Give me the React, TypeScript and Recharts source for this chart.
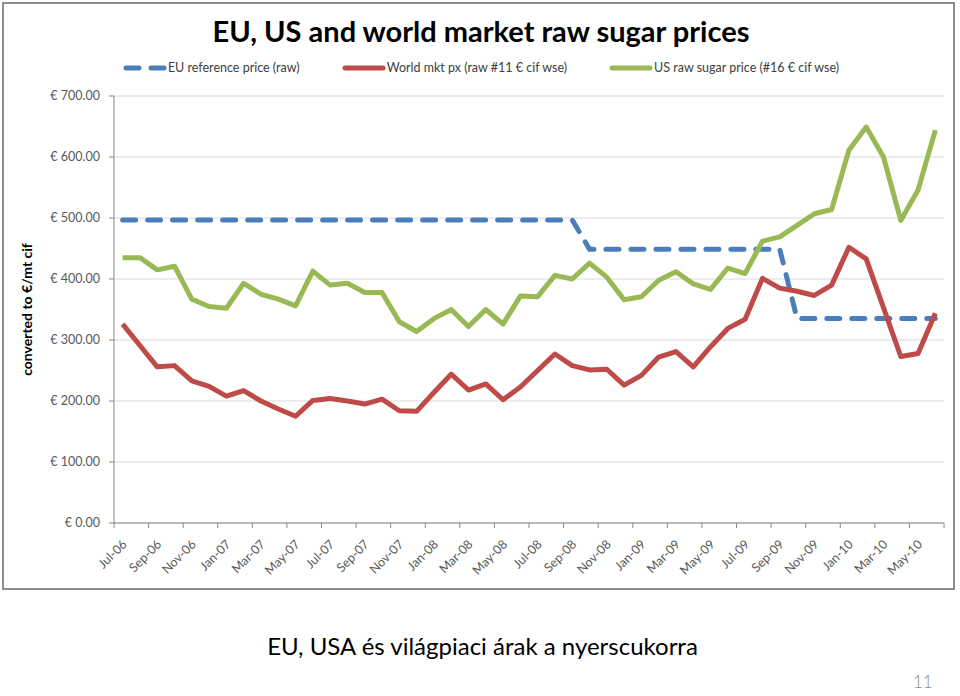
import React from 'react';
import { LineChart, Line, XAxis, YAxis, CartesianGrid, Legend } from 'recharts';

const months = [
  'Jul-06', 'Aug-06', 'Sep-06', 'Oct-06', 'Nov-06', 'Dec-06',
  'Jan-07', 'Feb-07', 'Mar-07', 'Apr-07', 'May-07', 'Jun-07',
  'Jul-07', 'Aug-07', 'Sep-07', 'Oct-07', 'Nov-07', 'Dec-07',
  'Jan-08', 'Feb-08', 'Mar-08', 'Apr-08', 'May-08', 'Jun-08',
  'Jul-08', 'Aug-08', 'Sep-08', 'Oct-08', 'Nov-08', 'Dec-08',
  'Jan-09', 'Feb-09', 'Mar-09', 'Apr-09', 'May-09', 'Jun-09',
  'Jul-09', 'Aug-09', 'Sep-09', 'Oct-09', 'Nov-09', 'Dec-09',
  'Jan-10', 'Feb-10', 'Mar-10', 'Apr-10', 'May-10', 'Jun-10',
];

// EU reference price (raw), €/t
const euReference = [
  496.8, 496.8, 496.8, 496.8, 496.8, 496.8, 496.8, 496.8, 496.8, 496.8, 496.8, 496.8,
  496.8, 496.8, 496.8, 496.8, 496.8, 496.8, 496.8, 496.8, 496.8, 496.8, 496.8, 496.8,
  496.8, 496.8, 496.8, 448.8, 448.8, 448.8, 448.8, 448.8, 448.8, 448.8, 448.8, 448.8,
  448.8, 448.8, 448.8, 335.2, 335.2, 335.2, 335.2, 335.2, 335.2, 335.2, 335.2, 335.2,
];

// world market, raw #11
const worldMarket = [
  326, 291, 256, 258, 233, 224, 208, 217, 200, 187, 175, 201,
  204, 200, 195, 203, 184, 183, 214, 244, 218, 228, 202, 223,
  250, 277, 258, 251, 252, 226, 242, 272, 281, 256, 289, 319,
  334, 401, 385, 380, 373, 390, 452, 433, 353, 273, 278, 344,
];

// US raw sugar, #16
const usRawSugar = [
  435, 435, 415, 421, 367, 355, 352, 393, 375, 367, 356, 413,
  390, 393, 378, 378, 330, 314, 335, 350, 322, 350, 326, 372,
  371, 406, 400, 426, 403, 366, 371, 398, 412, 392, 383, 418,
  409, 462, 469, 488, 507, 514, 611, 649, 600, 496, 546, 644,
];

const yTicks = [0, 100, 200, 300, 400, 500, 600, 700];

const seriesOrder = ['eu', 'world', 'us'];

const data = months.map((month, i) => ({
  idx: i,
  month,
  eu: euReference[i],
  world: worldMarket[i],
  us: usRawSugar[i],
}));

// tick marks sit between months, one every two months
const xTicks = months
  .map((_, i) => i - 0.5)
  .filter((_, i) => i % 2 === 0)
  .concat([months.length - 0.5]);

const FONT = 'Lato, "Open Sans", sans-serif';

function MonthTick({ x, y, payload, width }: any) {
  const label = months[payload.value + 0.5];
  if (!label) return null;
  const half = (width || 830) / months.length / 2;
  return (
    <text
      transform={`translate(${x + half + 5},${y + 15}) rotate(-45)`}
      textAnchor='end'
      fontSize={12.5}
      fontFamily={FONT}
      fill='#595959'>
      {label}
    </text>
  );
}

function LegendContent({ payload }: any) {
  const items = [...(payload || [])].sort(
    (a: any, b: any) => seriesOrder.indexOf(a.dataKey) - seriesOrder.indexOf(b.dataKey)
  );
  return (
    <div
      style={{
        display: 'flex',
        justifyContent: 'center',
        gap: 42,
        fontFamily: FONT,
        fontSize: 12.5,
        color: '#404040',
        lineHeight: '16px',
      }}>
      {items.map((entry: any) => (
        <div key={entry.value} style={{ display: 'flex', alignItems: 'center' }}>
          <svg width={44} height={10} style={{ marginRight: 1 }}>
            <line
              x1={3}
              x2={41}
              y1={5}
              y2={5}
              stroke={entry.color}
              strokeWidth={5}
              strokeLinecap='round'
              strokeDasharray={entry.payload?.strokeDasharray}
            />
          </svg>
          <span>{entry.value}</span>
        </div>
      ))}
    </div>
  );
}

export default function App() {
  return (
    <div style={{ position: 'absolute', left: 0, top: 0, width: 960, height: 696, background: '#fff' }}>
      <div
        style={{
          position: 'absolute',
          left: 2,
          top: 2,
          width: 953,
          height: 588,
          border: '2px solid #8c8c8c',
          boxSizing: 'border-box',
        }}
      />
      <div
        style={{
          position: 'absolute',
          left: 0,
          top: 14,
          width: 962,
          textAlign: 'center',
          fontFamily: FONT,
          fontWeight: 700,
          fontSize: 29,
          lineHeight: '34px',
          color: '#000',
        }}>
        EU, US and world market raw sugar prices
      </div>
      <div style={{ position: 'absolute', left: 0, top: 0 }}>
        <LineChart
          width={960}
          height={596}
          data={data}
          margin={{ top: 96, right: 16, left: 0, bottom: 13 }}>
          <CartesianGrid vertical={false} stroke='#d9d9d9' />
          <XAxis
            dataKey='idx'
            type='number'
            domain={[-0.5, months.length - 0.5]}
            ticks={xTicks}
            interval={0}
            height={60}
            stroke='#868686'
            tickSize={5}
            tick={<MonthTick />}
          />
          <YAxis
            domain={[0, 700]}
            ticks={yTicks}
            width={114}
            stroke='#868686'
            tickSize={5}
            tickMargin={9}
            tick={{ fontSize: 12.5, fontFamily: FONT, fill: '#595959' }}
            tickFormatter={(v: number) => `€ ${v.toFixed(2)}`}
            label={{
              value: 'converted to €/mt cif',
              angle: -90,
              position: 'center',
              dx: -30,
              style: { fontSize: 14, fontWeight: 700, fontFamily: FONT, fill: '#000' },
            }}
          />
          <Legend
            verticalAlign='middle'
            align='center'
            wrapperStyle={{ top: 60, left: 0, width: 962 }}
            content={<LegendContent />}
          />
          <Line
            name='EU reference price (raw)'
            dataKey='eu'
            type='linear'
            stroke='#4a7ebb'
            strokeWidth={5}
            strokeDasharray='13 12'
            strokeLinecap='round'
            dot={false}
            isAnimationActive={false}
          />
          <Line
            name='World mkt px (raw #11 € cif wse)'
            dataKey='world'
            type='linear'
            stroke='#be4b48'
            strokeWidth={5}
            strokeLinejoin='round'
            dot={false}
            isAnimationActive={false}
          />
          <Line
            name='US raw sugar price (#16 € cif wse)'
            dataKey='us'
            type='linear'
            stroke='#98b954'
            strokeWidth={5}
            strokeLinejoin='round'
            dot={false}
            isAnimationActive={false}
          />
        </LineChart>
      </div>
      <div
        style={{
          position: 'absolute',
          left: 0,
          top: 631,
          width: 965,
          textAlign: 'center',
          fontFamily: FONT,
          fontSize: 24,
          lineHeight: '30px',
          color: '#000',
        }}>
        EU, USA és világpiaci árak a nyerscukorra
      </div>
      <div
        style={{
          position: 'absolute',
          left: 913,
          top: 672,
          fontFamily: FONT,
          fontWeight: 300,
          fontSize: 17,
          lineHeight: '20px',
          color: '#8c8c8c',
        }}>
        11
      </div>
    </div>
  );
}
